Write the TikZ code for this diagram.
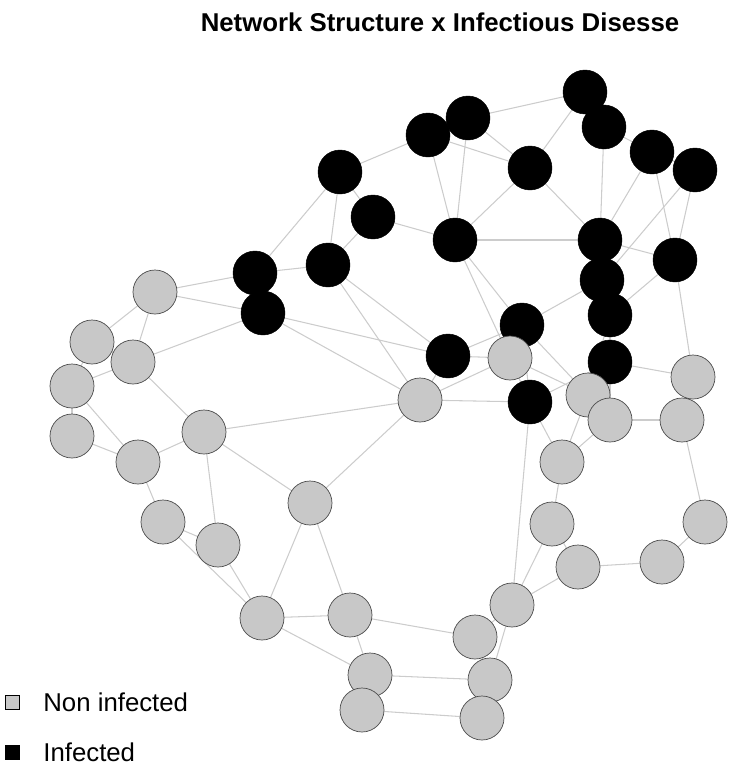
\documentclass[tikz,border=0pt]{standalone}
\usepackage{fontspec}
\setmainfont{Liberation Sans}
\usetikzlibrary{positioning}
\definecolor{NodeGray}{HTML}{C8C8C8}
\definecolor{EdgeGray}{HTML}{CCCCCC}
\tikzset{
  infected/.style={circle, fill=black, draw=black, minimum size=13.2mm, inner sep=0pt},
  healthy/.style={circle, fill=NodeGray, draw=black!70, line width=0.6pt, minimum size=13.2mm, inner sep=0pt},
  link/.style={EdgeGray, line width=0.9pt}
}
\begin{document}
\begin{tikzpicture}[x=0.3mm, y=-0.3mm]
  \useasboundingbox (0,0) rectangle (752,772);
  % Nodes
  \foreach \n/\x/\y in {b1/585/92, b2/468/118, b3/428/135, b4/604/127, b5/652/152,
      b6/695/170, b7/340/172, b8/530/168, b9/373/217, b10/455/240, b11/600/240,
      b12/328/265, b13/255/273, b14/675/260, b15/602/280, b16/263/313, b17/610/315,
      b18/522/325, b19/448/356, b20/610/362, b21/530/402}
    \coordinate (\n) at (\x,\y);
  \foreach \n/\x/\y in {g1/155/292, g2/92/342, g3/133/362, g4/72/386, g5/72/436,
      g6/204/432, g7/420/400, g8/510/358, g9/588/395, g10/610/420, g11/693/377,
      g12/682/420, g13/138/462, g14/562/462, g15/163/522, g16/310/503, g17/218/545,
      g18/552/524, g19/705/522, g20/578/567, g21/662/562, g22/262/618, g23/350/615,
      g24/512/605, g25/475/637, g26/370/675, g27/490/680, g28/362/710, g29/482/718}
    \coordinate (\n) at (\x,\y);
  % Edges
  \foreach \a/\b in {b1/b4, b1/b2, b2/b3, b3/b7, b2/b8, b1/b8, b4/b5, b5/b6, b4/b11,
      b5/b11, b6/b14, b5/b14, b3/b10, b2/b10, b8/b10, b7/b9, b7/b12, b9/b12, b9/b10,
      b12/b13, b13/b16, b7/b13, b10/b11, b8/b11, b11/b15, b15/b17, b17/b20, b14/b17,
      b10/b18, b18/b19, b18/b21, b15/b18, b20/b21, b12/b19, b16/b19, b10/b21, b3/b8,
      b6/b15, b11/b14,
      g1/g2, g1/g3, g2/g3, g2/g4, g3/g4, g4/g5, g4/g13, g5/g13, g3/g6, g6/g13, g13/g15,
      g6/g17, g15/g17, g6/g16, g15/g22, g17/g22, g16/g22, g16/g23, g22/g23, g22/g26,
      g23/g26, g23/g25, g26/g28, g28/g29, g26/g27, g27/g29, g25/g27, g24/g25, g24/g18,
      g18/g14, g18/g20, g20/g21, g21/g19, g19/g12, g12/g11, g10/g12, g9/g10, g8/g9,
      g8/g7, g7/g16, g14/g9, g14/g10, g24/g20, g24/g27,
      g1/b13, g1/b16, g3/b16, g7/b16, g7/b12, g6/g7, g7/b19, g8/b18, g8/b19, g9/b20,
      g9/b17, g10/b20, g11/b20, g14/b21, g24/b21, g7/b21, g11/b14, b18/g9}
    \draw[link] (\a) -- (\b);
  \foreach \n in {b1,b2,b3,b4,b5,b6,b7,b8,b9,b10,b11,b12,b13,b14,b15,b16,b17,b18,b19,b20,b21}
    \node[infected] at (\n) {};
  \foreach \n in {g1,g2,g3,g4,g5,g6,g7,g8,g9,g10,g11,g12,g13,g14,g15,g16,g17,g18,g19,
      g20,g21,g22,g23,g24,g25,g26,g27,g28,g29}
    \node[healthy] at (\n) {};
  % Title and legend
  \node[font=\bfseries\fontsize{22}{26}\selectfont] (title) at (440,22) {Network Structure x Infectious Disesse};
  \node[draw=black, fill=NodeGray, minimum size=4.2mm, inner sep=0pt] (keyhealthy) at (12,702) {};
  \node[right=6mm of keyhealthy, font=\fontsize{22}{26}\selectfont] {Non infected};
  \node[draw=black, fill=black, minimum size=4.2mm, inner sep=0pt] (keyinfected) at (12,752) {};
  \node[right=6mm of keyinfected, font=\fontsize{22}{26}\selectfont] {Infected};
\end{tikzpicture}
\end{document}
